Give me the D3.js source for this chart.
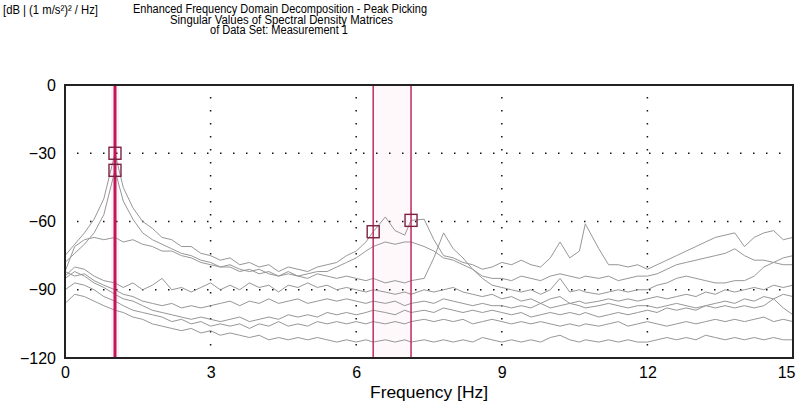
<!DOCTYPE html>
<html>
<head>
<meta charset="utf-8">
<script src="https://cdn.jsdelivr.net/npm/d3@7"></script>
<style>
  body { margin: 0; background: #fff; }
  svg { display: block; font-family: "Liberation Sans", Arial, sans-serif; }
</style>
</head>
<body>
<svg width="804" height="406"></svg>
<script>
// frequency grid [Hz], shared by all singular value curves
var freqs = [0, 0.2, 0.4, 0.6, 0.8, 1.03,
  1.2, 1.4, 1.6, 1.8, 2.0, 2.2, 2.4, 2.6, 2.8, 3.0,
  3.2, 3.4, 3.6, 3.8, 4.0, 4.2, 4.4, 4.6, 4.8, 5.0,
  5.2, 5.4, 5.6, 5.8, 6.0, 6.2, 6.35, 6.6, 6.8, 7.0,
  7.13, 7.4, 7.6, 7.8, 8.0, 8.2, 8.4, 8.6, 8.8, 9.0,
  9.2, 9.4, 9.6, 9.8, 10.0, 10.2, 10.4, 10.6, 10.72, 11.0,
  11.2, 11.4, 11.6, 11.8, 12.0, 12.2, 12.4, 12.6, 12.8, 13.0,
  13.2, 13.4, 13.6, 13.8, 14.0, 14.2, 14.4, 14.6, 14.8, 15.0];

// singular values [dB]
var sv1 = [-75, -70, -65, -59, -50, -30,
  -45, -54, -60, -63, -67, -68, -71, -71, -74, -75,
  -77, -76, -79, -78, -80, -79, -82, -80, -81, -82,
  -80, -79, -78, -75, -73, -69, -64.5, -58, -64, -66,
  -59.5, -59, -68, -75, -76, -78, -79, -81, -80, -78,
  -79, -77, -79, -80, -76, -69, -76, -73, -61, -72,
  -79, -79, -80, -79, -81, -79, -77, -75, -73, -71,
  -69, -67, -66, -65, -71, -67, -65, -64, -68, -67];
var sv2 = [-78, -74, -70, -65, -57, -37.5,
  -51, -59, -65, -68, -70, -72, -74, -75, -77, -78,
  -80, -79, -81, -82, -81, -83, -84, -82, -84, -83,
  -82, -82, -80, -78, -76, -73, -71, -69, -70, -69,
  -69, -71, -73, -76, -77, -79, -81, -84, -85, -85,
  -86, -84, -85, -86, -84, -83, -84, -85, -84, -85,
  -84, -86, -85, -84, -84, -83, -81, -79, -78, -77,
  -76, -75, -74, -72, -75, -77, -77, -78, -76, -75];
var sv3 = [-82, -71, -68, -67, -68, -67,
  -69, -68, -70, -71, -73, -73, -75, -76, -78, -79,
  -80, -80, -82, -81, -83, -82, -84, -83, -84, -85,
  -83, -84, -85, -84, -85, -86, -85, -87, -86, -87,
  -86, -85, -76, -65, -72, -76, -81, -85, -88, -89,
  -90, -91, -90, -92, -90, -85, -91, -90, -91, -92,
  -91, -90, -91, -90, -90, -88, -87, -85, -84, -85,
  -86, -87, -87, -86, -86, -84, -80, -78, -79, -79];
var sv4 = [-84, -80, -81, -84, -86, -87,
  -89, -87, -90, -88, -85, -90, -89, -91, -89, -87,
  -90, -88, -90, -87, -89, -88, -91, -88, -89, -87,
  -89, -88, -90, -89, -90, -91, -90, -91, -92, -91,
  -92, -90, -91, -90, -89, -91, -92, -93, -92, -94,
  -93, -95, -94, -96, -94, -93, -96, -95, -96, -95,
  -94, -95, -94, -95, -94, -93, -94, -93, -92, -93,
  -91, -92, -90, -91, -90, -89, -90, -88, -89, -88];
var sv5 = [-82, -84, -83, -86, -88, -90,
  -92, -93, -95, -96, -97, -96, -98, -97, -98, -97,
  -96, -95, -97, -95, -96, -94, -96, -95, -94, -96,
  -95, -94, -95, -94, -95, -96, -95, -96, -95, -97,
  -96, -95, -96, -94, -95, -96, -97, -96, -97, -97,
  -98, -97, -98, -96, -98, -97, -96, -97, -98, -97,
  -96, -97, -98, -97, -97, -98, -97, -96, -97, -98,
  -97, -96, -95, -96, -94, -95, -93, -94, -92, -93];
var sv6 = [-85, -82, -84, -87, -89, -92,
  -94, -95, -97, -99, -100, -101, -102, -103, -102, -103,
  -104, -103, -102, -104, -103, -102, -103, -101, -102, -101,
  -102, -100, -101, -100, -101, -100, -99, -100, -101, -99,
  -100, -99, -100, -98, -99, -100, -99, -100, -99, -100,
  -101, -100, -102, -101, -100, -101, -100, -101, -100, -102,
  -101, -100, -101, -100, -99, -100, -98, -99, -98, -99,
  -97, -98, -97, -98, -97, -98, -97, -94, -98, -101];
var sv7 = [-90, -87, -88, -90, -93, -95,
  -97, -99, -100, -101, -102, -104, -103, -105, -104, -106,
  -105, -106, -105, -107, -105, -106, -104, -106, -105, -106,
  -104, -105, -104, -105, -104, -105, -104, -105, -104, -105,
  -104, -103, -104, -103, -104, -103, -105, -104, -103, -104,
  -105, -104, -105, -104, -105, -106, -105, -106, -105, -106,
  -105, -104, -106, -105, -104, -105, -106, -105, -104, -105,
  -104, -103, -104, -103, -104, -103, -102, -104, -103, -104];
var sv8 = [-96, -92, -93, -95, -97, -99,
  -100, -102, -103, -105, -106, -107, -108, -107, -109, -108,
  -110, -109, -110, -111, -110, -112, -111, -112, -111, -112,
  -111, -112, -113, -112, -113, -112, -113, -112, -113, -112,
  -113, -112, -113, -112, -113, -112, -113, -111, -112, -113,
  -112, -113, -112, -113, -111, -110, -112, -113, -112, -113,
  -112, -113, -112, -113, -113, -112, -111, -112, -111, -112,
  -110, -111, -112, -111, -112, -111, -112, -111, -112, -112];

var curves = [sv1, sv2, sv3, sv4, sv5, sv6, sv7, sv8];

// picked peaks
var peakFreqs = [1.03, 1.03, 6.35, 7.13];
var peakValues = [-30, -37.5, -64.5, -59.5];
var cursorFreqs = [1.03, 6.35, 7.13];

var xTicks = [0, 3, 6, 9, 12, 15];
var yTicks = [0, -30, -60, -90, -120];
var xGrid = [3, 6, 9, 12];
var yGrid = [-30, -60, -90];

var titleLines = ["Enhanced Frequency Domain Decomposition - Peak Picking",
  "Singular Values of Spectral Density Matrices",
  "of Data Set: Measurement 1"];

var svg = d3.select("svg");
var pLeft = 65, pRight = 793, pTop = 85, pBottom = 358;

var x = d3.scaleLinear().domain([0, 15]).range([pLeft, pRight]);
var y = d3.scaleLinear().domain([-120, 0]).range([pBottom, pTop]);

svg.append("defs").append("clipPath")
  .attr("id", "plotclip")
  .append("rect")
  .attr("x", pLeft).attr("y", pTop)
  .attr("width", pRight - pLeft).attr("height", pBottom - pTop);

var plot = svg.append("g").attr("clip-path", "url(#plotclip)");

// very faint band between the two cursors near 6-7 Hz
plot.append("rect")
  .attr("x", x(cursorFreqs[1])).attr("y", pTop)
  .attr("width", x(cursorFreqs[2]) - x(cursorFreqs[1]))
  .attr("height", pBottom - pTop)
  .attr("fill", "#fef8fa");
plot.append("rect")
  .attr("x", x(cursorFreqs[0]) - 4).attr("y", pTop)
  .attr("width", 8).attr("height", pBottom - pTop)
  .attr("fill", "#fdf3f6");

// dotted grid
plot.append("g").selectAll("line")
  .data(xGrid).enter().append("line")
  .attr("x1", d => x(d)).attr("x2", d => x(d))
  .attr("y1", pTop).attr("y2", pBottom)
  .attr("stroke", "#111").attr("stroke-width", 1.5)
  .attr("stroke-dasharray", "1.5,11.5").attr("stroke-dashoffset", 1);
plot.append("g").selectAll("line")
  .data(yGrid).enter().append("line")
  .attr("x1", pLeft).attr("x2", pRight)
  .attr("y1", d => y(d)).attr("y2", d => y(d))
  .attr("stroke", "#111").attr("stroke-width", 1.5)
  .attr("stroke-dasharray", "1.5,11.5").attr("stroke-dashoffset", 1);

// singular value curves
var line = d3.line()
  .x((d, i) => x(freqs[i]))
  .y(d => y(d));

plot.append("g").selectAll("path")
  .data(curves).enter().append("path")
  .attr("d", line)
  .attr("fill", "none")
  .attr("stroke", "#979797")
  .attr("stroke-width", 1);

// cursor lines
plot.append("g").selectAll("line")
  .data(cursorFreqs).enter().append("line")
  .attr("x1", d => x(d)).attr("x2", d => x(d))
  .attr("y1", pTop).attr("y2", pBottom)
  .attr("stroke", (d, i) => i == 0 ? "#c4145a" : "#bf2a64")
  .attr("stroke-width", (d, i) => i == 0 ? 3 : 1.5);

// peak markers
plot.append("g").selectAll("rect")
  .data(peakFreqs).enter().append("rect")
  .attr("x", d => x(d) - 6)
  .attr("y", (d, i) => y(peakValues[i]) - 6)
  .attr("width", 12).attr("height", 12)
  .attr("fill", "none")
  .attr("stroke", "#7d2040")
  .attr("stroke-width", 1.4);

// frame
svg.append("rect")
  .attr("x", pLeft).attr("y", pTop)
  .attr("width", pRight - pLeft).attr("height", pBottom - pTop)
  .attr("fill", "none")
  .attr("stroke", "#222")
  .attr("stroke-width", 2);

// axes
var xAxis = svg.append("g")
  .attr("transform", "translate(0," + pBottom + ")")
  .call(d3.axisBottom(x).tickValues(xTicks).tickSize(0).tickPadding(9));
xAxis.select(".domain").remove();
xAxis.selectAll("text")
  .attr("font-size", 16).attr("fill", "#000")
  .attr("font-family", "Liberation Sans, Arial, sans-serif")
  .filter(d => d == 15)
  .attr("text-anchor", "end").attr("dx", 2);

var yAxis = svg.append("g")
  .attr("transform", "translate(" + pLeft + ",0)")
  .call(d3.axisLeft(y).tickValues(yTicks).tickSize(0).tickPadding(9));
yAxis.select(".domain").remove();
yAxis.selectAll("text")
  .attr("font-size", 16).attr("fill", "#000")
  .attr("font-family", "Liberation Sans, Arial, sans-serif");

svg.append("text")
  .attr("x", x(7.5)).attr("y", 398)
  .attr("text-anchor", "middle")
  .attr("font-size", 16)
  .attr("textLength", 118).attr("lengthAdjust", "spacingAndGlyphs")
  .text("Frequency [Hz]");

// unit label and titles
svg.append("text")
  .attr("x", 3).attr("y", 13.5)
  .attr("font-size", 12.5)
  .attr("textLength", 95).attr("lengthAdjust", "spacingAndGlyphs")
  .text("[dB | (1 m/s\u00b2)\u00b2 / Hz]");

var titleX = [280, 281.5, 279];
var titleY = [13, 23.5, 34];
var titleW = [294, 223, 138];
svg.append("g").selectAll("text")
  .data(titleLines).enter().append("text")
  .attr("x", (d, i) => titleX[i])
  .attr("y", (d, i) => titleY[i])
  .attr("text-anchor", "middle")
  .attr("font-size", 12)
  .attr("textLength", (d, i) => titleW[i])
  .attr("lengthAdjust", "spacingAndGlyphs")
  .text(d => d);
</script>
</body>
</html>
